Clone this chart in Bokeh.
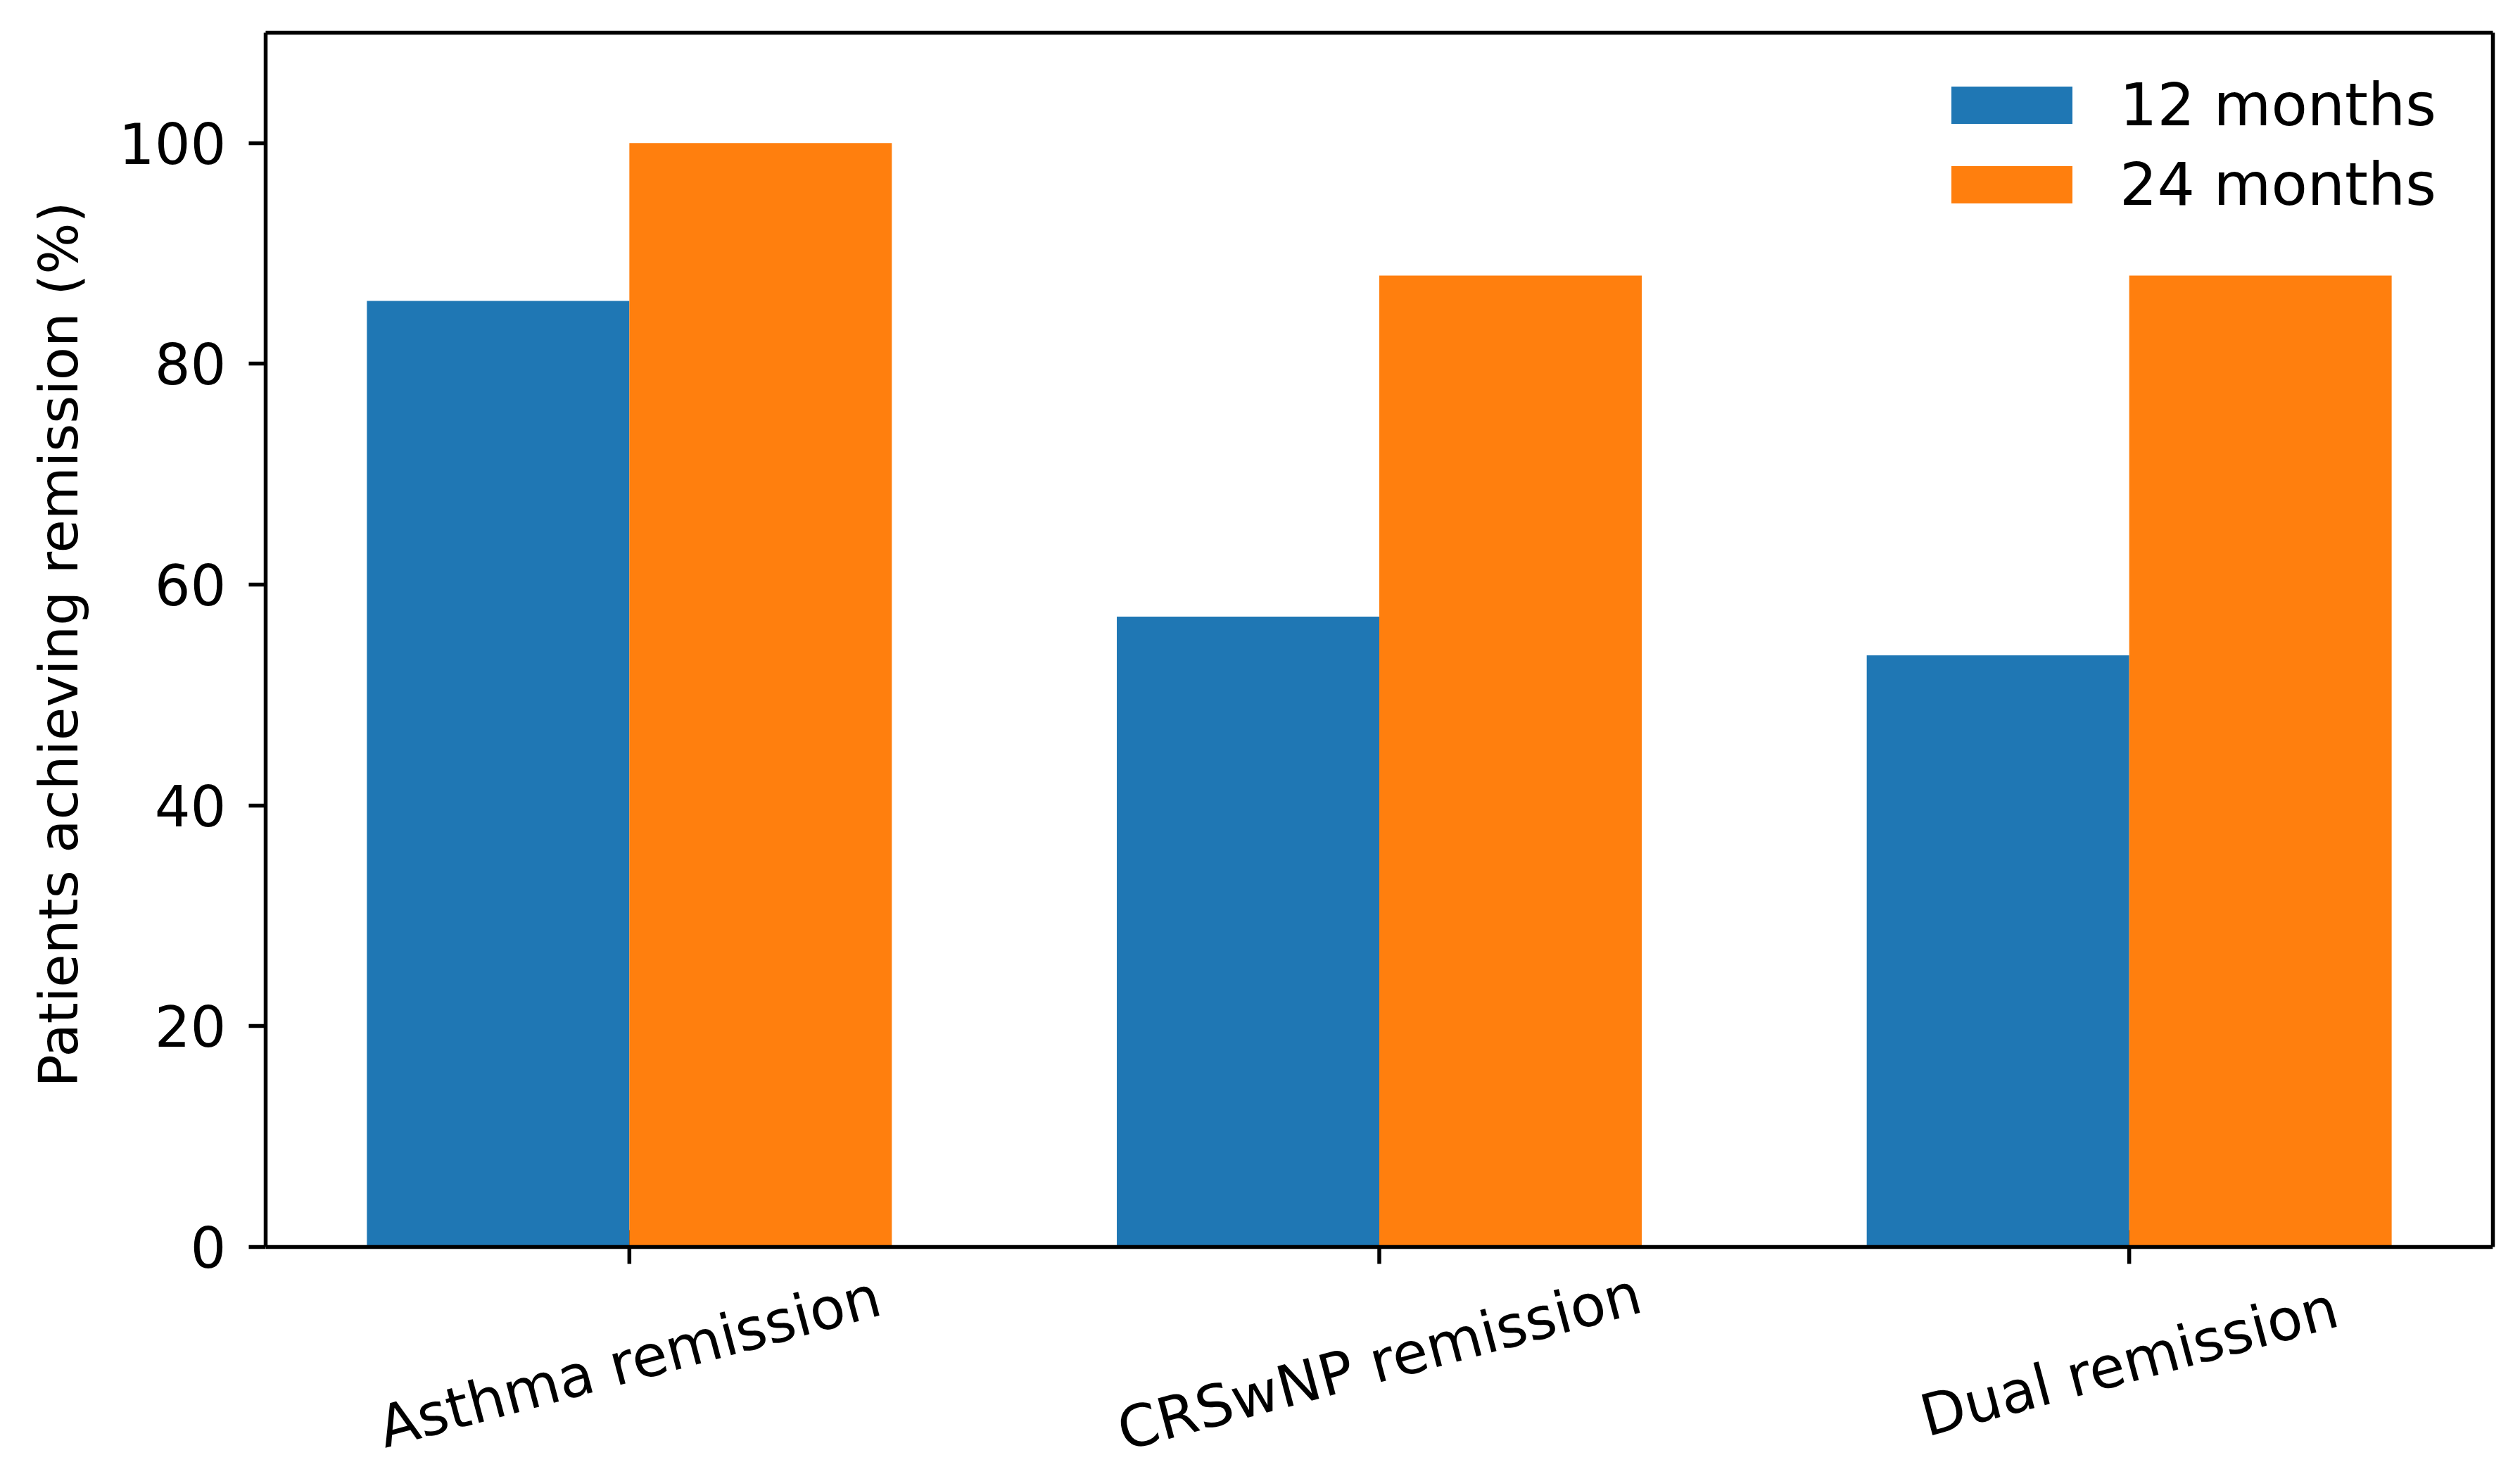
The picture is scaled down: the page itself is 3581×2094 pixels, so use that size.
from bokeh.plotting import figure
from bokeh.models import (ColumnDataSource, FixedTicker, Range1d, Legend, LegendItem,
                          LabelSet, LinearAxis, Span, Title)
from bokeh.core.properties import value
from bokeh.transform import dodge
from bokeh.embed import file_html
from bokeh.resources import INLINE
import math

categories = ["Asthma remission", "CRSwNP remission", "Dual remission"]
months_12 = [85.7, 57.1, 53.6]
months_24 = [100.0, 88.0, 88.0]
series_labels = ["12 months", "24 months"]
y_ticks = [0, 20, 40, 60, 80, 100]
y_max = 110
y_title = "Patients achieving remission (%)"

idx = list(range(len(categories)))
src = ColumnDataSource(dict(x=idx, a=months_12, b=months_24, cat=categories,
                            base=[0] * len(categories)))

FONT = "DejaVu Sans"
FS = "80px"
LW = 5.5

# the frame reaches down below the value axis so that the rotated category
# labels (centred on their ticks) are drawn inside the canvas
p = figure(width=3565, height=2090, output_backend="svg", toolbar_location=None,
           x_range=Range1d(-0.485, 2.485), y_range=Range1d(-20.34, y_max),
           x_axis_location=None,
           min_border_left=377, min_border_right=23, min_border_top=46, min_border_bottom=0)
p.outline_line_color = None
p.xgrid.visible = False
p.ygrid.visible = False

# x tick marks at the category centres (lower half shows below the baseline)
p.scatter(x="x", y="base", source=src, marker="dash", angle=math.pi / 2, size=48,
          line_color="black", line_width=LW)

r1 = p.vbar(x=dodge("x", -0.175), top="a", width=0.35, source=src,
            fill_color="#1f77b4", line_color=None)
r2 = p.vbar(x=dodge("x", 0.175), top="b", width=0.35, source=src,
            fill_color="#ff7f0e", line_color=None)

# left axis (value axis)
ya = p.yaxis[0]
ya.bounds = (0, y_max)
ya.ticker = FixedTicker(ticks=y_ticks)
ya.axis_line_width = LW
ya.major_tick_line_width = LW
ya.major_tick_out = 24
ya.major_tick_in = 0
ya.minor_tick_line_color = None
ya.major_label_text_font = FONT
ya.major_label_text_font_size = FS
ya.major_label_text_color = "black"
ya.major_label_standoff = 32

# y-axis title, centred on the 0..110 span of the value axis
p.add_layout(Title(text=y_title, align="right", vertical_align="middle", offset=240,
                   standoff=74, text_font=FONT, text_font_size="77px",
                   text_font_style="normal", text_color="black"), "left")

# right and top spines
right_spine = LinearAxis(bounds=(0, y_max), ticker=FixedTicker(ticks=[]),
                         axis_line_width=LW, major_tick_line_color=None,
                         minor_tick_line_color=None, major_label_text_font_size="0px")
p.add_layout(right_spine, "right")
top_spine = LinearAxis(ticker=FixedTicker(ticks=[]), axis_line_width=LW,
                       major_tick_line_color=None, minor_tick_line_color=None,
                       major_label_text_font_size="0px")
p.add_layout(top_spine, "above")

# bottom spine at zero
p.add_layout(Span(location=0, dimension="width", line_color="black", line_width=LW))

# category labels rotated 15 degrees, centred on the ticks
labels = LabelSet(x="x", y="base", text="cat", source=src, angle=math.radians(15),
                  text_align="center", text_baseline="middle", y_offset=-163,
                  text_font=value(FONT), text_font_size=value("82px"), text_color="black")
p.add_layout(labels)

legend = Legend(items=[LegendItem(label=series_labels[0], renderers=[r1]),
                       LegendItem(label=series_labels[1], renderers=[r2])],
                location="top_right")
legend.border_line_alpha = 0
legend.background_fill_alpha = 0
legend.label_text_font = FONT
legend.label_text_font_size = "84px"
legend.label_text_color = "black"
legend.glyph_width = 215
legend.glyph_height = 66
legend.spacing = 15
legend.label_standoff = 46
legend.label_width = 476
legend.margin = 34
legend.padding = 20
p.add_layout(legend)

open("out.html", "w").write(file_html(p, INLINE))
